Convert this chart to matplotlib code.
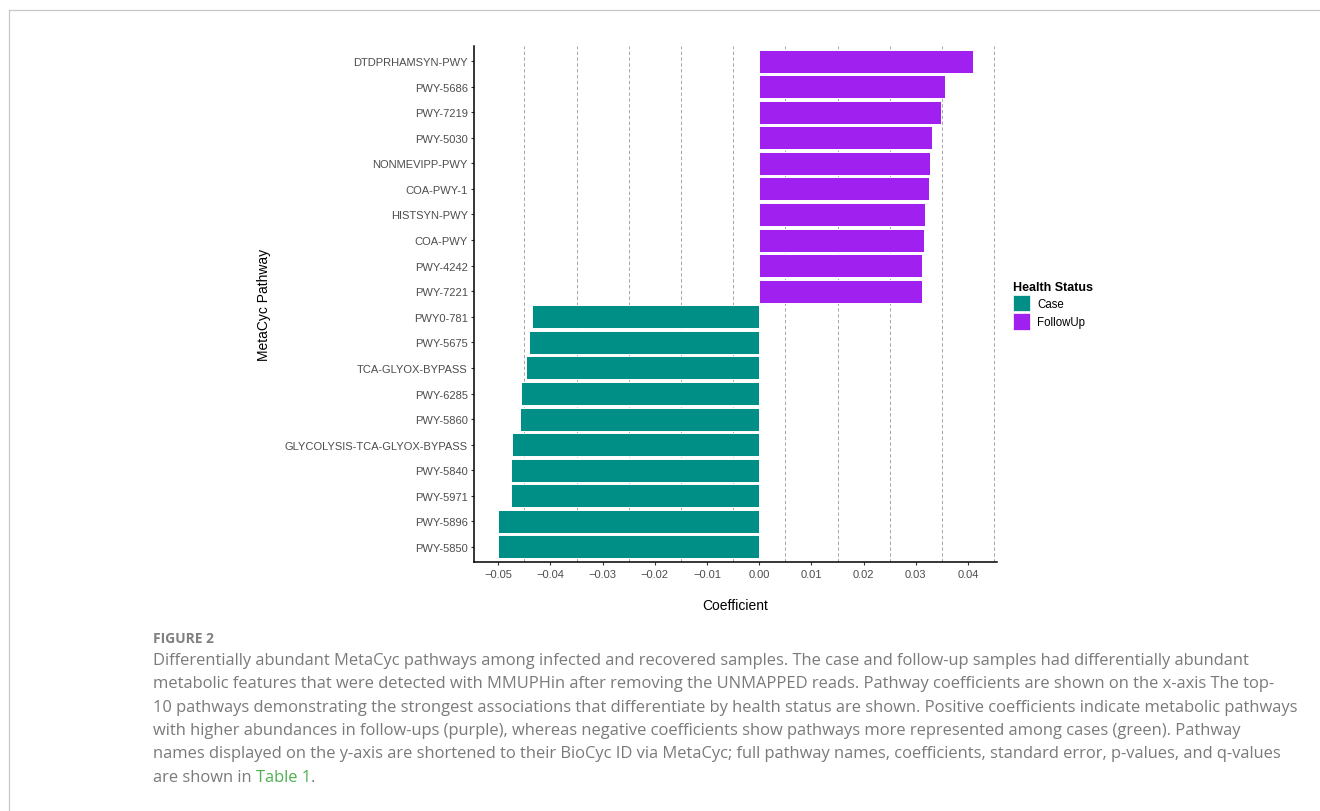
import matplotlib
matplotlib.use("Agg")
import matplotlib.pyplot as plt
from matplotlib.patches import Patch
from matplotlib.lines import Line2D
import numpy as np

# Pathways, top to bottom as displayed
pathways = [
    "DTDPRHAMSYN-PWY", "PWY-5686", "PWY-7219", "PWY-5030", "NONMEVIPP-PWY",
    "COA-PWY-1", "HISTSYN-PWY", "COA-PWY", "PWY-4242", "PWY-7221",
    "PWY0-781", "PWY-5675", "TCA-GLYOX-BYPASS", "PWY-6285", "PWY-5860",
    "GLYCOLYSIS-TCA-GLYOX-BYPASS", "PWY-5840", "PWY-5971", "PWY-5896", "PWY-5850",
]
coefficients = [
    0.0410, 0.0356, 0.0349, 0.0331, 0.0328,
    0.0326, 0.0317, 0.0316, 0.0312, 0.0311,
    -0.0435, -0.0441, -0.0446, -0.0456, -0.0459,
    -0.0473, -0.0475, -0.0476, -0.0501, -0.0501,
]
status = ["FollowUp"] * 10 + ["Case"] * 10
status_levels = ["Case", "FollowUp"]
status_colors = {"Case": "#008F87", "FollowUp": "#A020F0"}

x_ticks = [-0.05, -0.04, -0.03, -0.02, -0.01, 0.00, 0.01, 0.02, 0.03, 0.04]
x_grid = [-0.045, -0.035, -0.025, -0.015, -0.005, 0.005, 0.015, 0.025, 0.035, 0.045]

caption_label = "FIGURE 2"
caption_lines = [
    "Differentially abundant MetaCyc pathways among infected and recovered samples. The case and follow-up samples had differentially abundant",
    "metabolic features that were detected with MMUPHin after removing the UNMAPPED reads. Pathway coefficients are shown on the x-axis The top-",
    "10 pathways demonstrating the strongest associations that differentiate by health status are shown. Positive coefficients indicate metabolic pathways",
    "with higher abundances in follow-ups (purple), whereas negative coefficients show pathways more represented among cases (green). Pathway",
    "names displayed on the y-axis are shortened to their BioCyc ID via MetaCyc; full pathway names, coefficients, standard error, p-values, and q-values",
]
caption_last = ["are shown in ", "Table 1", "."]

W, H = 1320, 812
fig = plt.figure(figsize=(W / 100, H / 100), dpi=100)
fig.patch.set_facecolor("white")


def fx(x):
    return x / W


def fy(y):
    return 1 - y / H


chart_font = "Liberation Sans"
caption_font = "Open Sans"

# Outer frame (top and left rules)
fig.add_artist(Line2D([fx(9), 1.0], [fy(11), fy(11)], color="#c8c8c8", lw=0.9))
fig.add_artist(Line2D([fx(9), fx(9)], [fy(11), 0.0], color="#c8c8c8", lw=0.9))

ax = fig.add_axes([fx(474), fy(563.3), fx(997) - fx(474), fy(46.7) - fy(563.3)])

ypos = np.arange(len(pathways))
colors = [status_colors[s] for s in status]
ax.barh(ypos, coefficients, height=0.9, color=colors, edgecolor="white",
        linewidth=0.7, zorder=2)

for g in x_grid:
    ax.axvline(g, color="#a6a6a6", lw=0.7, ls=(0, (3.5, 2.5)), zorder=1)

vals = np.array(coefficients)
span = vals.max() - vals.min()
ax.set_xlim(vals.min() - 0.05 * span, vals.max() + 0.05 * span)
ax.set_ylim(len(pathways) - 0.4, -0.6)

ax.set_xticks(x_ticks)
ax.set_xticklabels([f"{t:.2f}".replace("-", "\u2212") for t in x_ticks])
ax.set_yticks(ypos)
ax.set_yticklabels(pathways)

for lab in ax.get_xticklabels() + ax.get_yticklabels():
    lab.set_fontfamily(chart_font)
    lab.set_fontsize(8)
    lab.set_color("#4d4d4d")

ax.tick_params(axis="both", length=2.5, width=0.8, color="#333333", pad=2)

for side in ["top", "right"]:
    ax.spines[side].set_visible(False)
for side in ["left", "bottom"]:
    ax.spines[side].set_linewidth(1.1)
    ax.spines[side].set_color("black")

ax.set_xlabel("Coefficient", fontfamily=chart_font, fontsize=10, color="black",
              labelpad=14)
ax.set_ylabel("MetaCyc Pathway", fontfamily=chart_font, fontsize=10, color="black",
              labelpad=10)
ax.set_facecolor("white")

handles = [Patch(facecolor=status_colors[s], edgecolor="white", linewidth=0.5, label=s)
           for s in status_levels]
leg = fig.legend(handles=handles, title="Health Status", loc="upper left",
                 bbox_to_anchor=(fx(1010), fy(279)), frameon=False,
                 prop={"family": chart_font, "size": 8.3},
                 title_fontproperties={"family": chart_font, "size": 9, "weight": "bold"},
                 handlelength=1.45, handleheight=1.8, labelspacing=0.15,
                 handletextpad=0.6, borderaxespad=0, borderpad=0.3,
                 alignment="left")

# Caption block
text_color = "#7a7a7a"
fig.text(fx(153), fy(642.7), caption_label, fontfamily=caption_font, fontsize=10,
         fontweight="bold", color="#808080", va="baseline", ha="left")

renderer = fig.canvas.get_renderer()
probe = fig.text(0, 0, caption_lines[2], fontfamily=caption_font, fontsize=13)
w = probe.get_window_extent(renderer).width
probe.remove()
cap_size = 13 * (1300 - 153) / w

baselines = [665, 688.3, 711.7, 735, 758.3, 781.7]
for line, yb in zip(caption_lines, baselines):
    fig.text(fx(153), fy(yb), line, fontfamily=caption_font, fontsize=cap_size,
             color=text_color, va="baseline", ha="left")

xcur = 153
for part, col in zip(caption_last, [text_color, "#4caf50", text_color]):
    t = fig.text(fx(xcur), fy(baselines[-1]), part, fontfamily=caption_font,
                 fontsize=cap_size, color=col, va="baseline", ha="left")
    xcur += t.get_window_extent(renderer).width

fig.savefig("out.png", dpi=100, facecolor="white")
